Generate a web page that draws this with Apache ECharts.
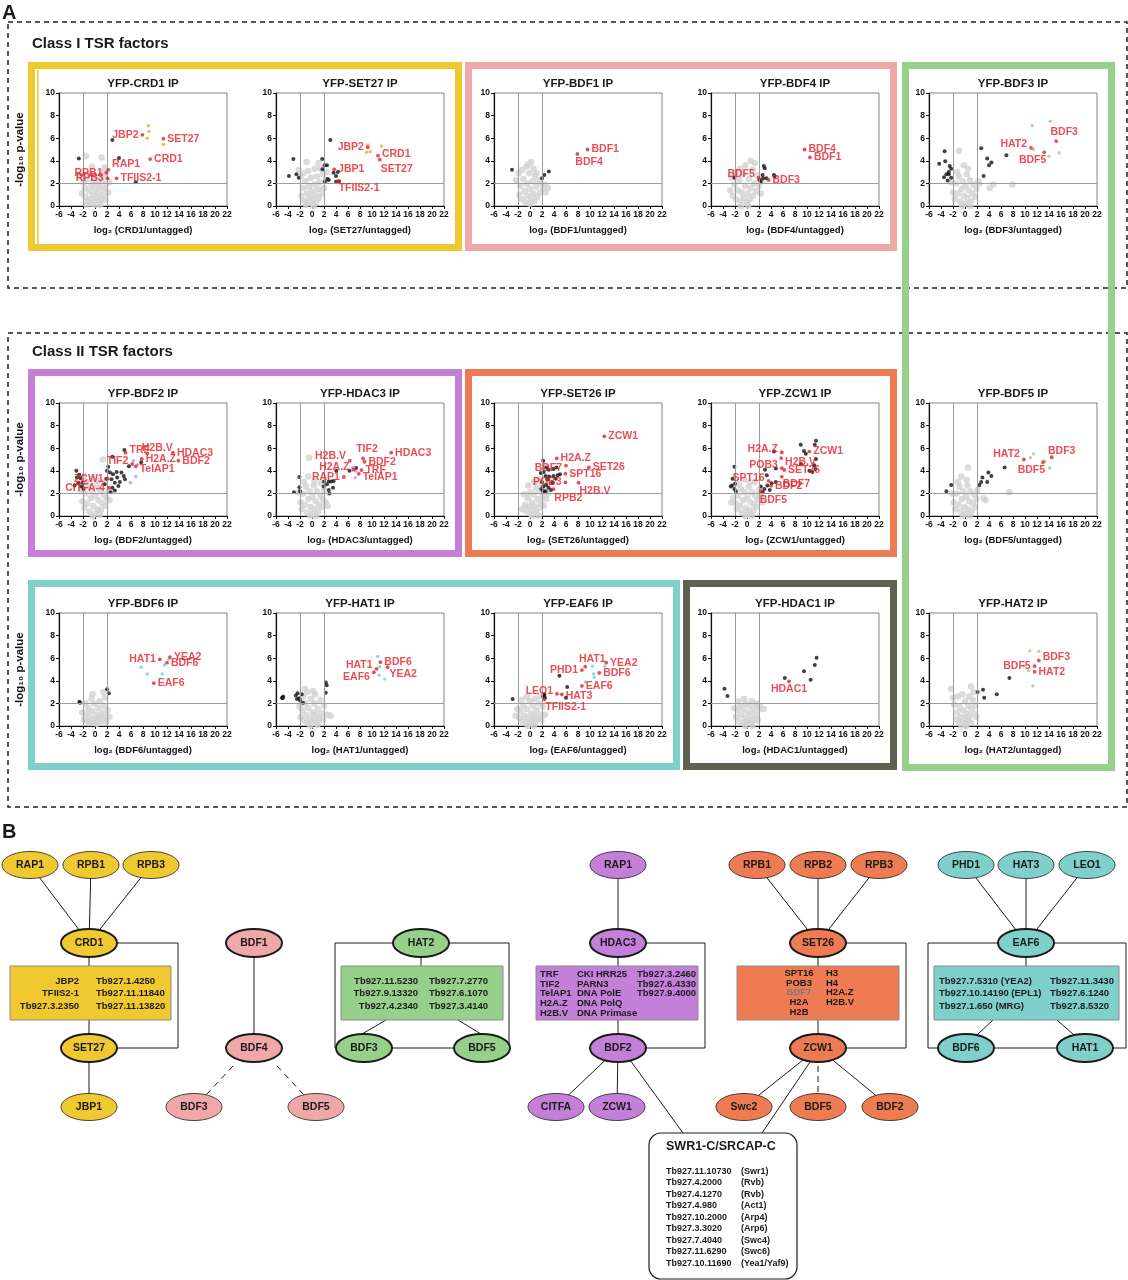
<!DOCTYPE html>
<html><head><meta charset="utf-8">
<script src="https://cdn.jsdelivr.net/npm/echarts@6/dist/echarts.min.js"></script>
<style>html,body{margin:0;padding:0;background:#fff}#c{width:1128px;height:1280px}</style>
</head><body><div id="c"></div><script>
// ---------------- DATA ----------------
const axisX = {min:-6, max:22, step:2};
const axisY = {min:0, max:10, step:2};
const cutoffs = {fcLow:-2, fcHigh:2, p:2};

// CRD1
const gCRD1=[[-1.6,0.8],[-1.2,0.4],[-1.0,1.3],[-0.8,0.6],[-0.6,1.8],[-0.5,0.2],[-0.3,1.0],[-0.1,0.5],[0.0,1.5],[0.1,0.1],[0.3,0.8],[0.3,2.0],[0.6,0.3],[0.6,1.2],[0.9,1.7],[1.0,0.6],[1.1,2.3],[1.4,1.0],[1.6,1.5],[1.7,0.5],[1.9,2.0],[-1.7,1.6],[-1.9,2.1],[-1.3,2.4],[-0.9,2.8],[0.4,2.6],[1.3,3.0],[-1.4,0.1],[0.9,0.1],[-0.2,2.2],[1.6,2.6],[2.2,1.2],[-2.2,1.1],[-1.5,4.4],[1.1,4.3],[-0.5,3.5],[1.6,3.4],[2.4,2.1],[-2.4,2.6]];
const bCRD1=[[2.9,5.85],[-2.7,4.2],[4.0,4.25],[6.8,2.1]];
const tCRD1=[[8.9,7.1],[9.0,6.6],[8.7,6.0],[11.4,5.45]];
const rCRD1=[['JBP2',7.9,6.3],['SET27',11.4,5.95],['CRD1',9.2,4.15],['RAP1',2.2,3.2],['RPB1',1.9,2.95],['RPB3',2.1,2.45],['TFIIS2-1',3.6,2.45]];
// SET27
const gSET27=[[-1.8,0.9],[-1.5,1.6],[-1.3,0.5],[-1.1,2.2],[-0.9,1.1],[-0.7,0.3],[-0.5,1.7],[-0.4,0.8],[-0.2,2.5],[0.0,0.2],[0.0,1.3],[0.2,0.6],[0.4,1.9],[0.5,1.0],[0.7,0.3],[0.8,2.6],[1.0,1.5],[1.2,0.7],[1.3,2.1],[1.6,1.1],[1.8,2.8],[2.0,1.6],[2.3,2.3],[-1.9,2.6],[-1.4,2.9],[-0.6,3.1],[0.5,3.3],[1.5,3.3],[-0.9,3.9],[-2.2,3.2],[0.3,0.0],[-1.0,0.1],[2.4,3.0],[1.1,3.8]];
const bSET27=[[3.05,5.85],[-3.1,4.15],[-3.85,2.65],[-2.6,2.8],[-2.2,2.5],[1.7,4.15],[1.75,3.25],[2.1,3.6],[2.5,3.6],[2.6,2.4],[2.15,2.15],[3.6,2.95],[4.0,2.65],[4.3,3.0],[4.0,2.15],[2.8,2.3],[4.5,2.2]];
const tSET27=[[9.3,5.4],[9.1,4.75],[9.7,4.8],[11.6,5.3]];
const rSET27=[['JBP2',9.3,5.2],['CRD1',11.0,4.45],['SET27',11.3,4.1],['JBP1',3.7,3.25],['TFIIS2-1',4.3,2.2]];
// BDF1
const gBDF1=[[-1.8,1.0],[-1.6,1.8],[-1.3,0.6],[-1.1,2.4],[-0.9,1.3],[-0.7,0.3],[-0.5,2.0],[-0.4,0.9],[-0.2,2.9],[0.0,0.2],[0.0,1.5],[0.2,0.6],[0.4,2.2],[0.5,1.1],[0.7,0.4],[0.8,2.7],[1.0,1.7],[1.2,0.8],[1.4,2.3],[1.7,1.2],[1.9,2.0],[2.2,1.5],[2.5,1.9],[-1.9,2.9],[-1.3,3.2],[-0.6,3.5],[0.2,3.9],[0.6,3.3],[-0.3,3.7],[-2.3,2.3],[1.1,2.9],[2.6,1.2],[3.0,1.6]];
const bBDF1=[[-3.0,3.2],[2.4,2.75],[3.15,3.05],[2.0,2.45]];
const tBDF1=[];
const rBDF1=[['BDF1',9.6,5.0],['BDF4',7.9,4.6]];
// BDF4
const gBDF4=[[-2.8,1.4],[-2.4,0.9],[-2.1,1.9],[-1.8,0.6],[-1.6,1.4],[-1.3,2.3],[-1.1,0.4],[-0.9,1.2],[-0.7,2.8],[-0.5,0.7],[-0.3,1.8],[0.0,0.3],[0.1,1.1],[0.3,2.4],[0.5,0.6],[0.6,1.6],[0.9,3.2],[1.0,0.9],[1.2,2.0],[1.5,1.3],[1.7,2.7],[2.0,1.8],[2.3,1.1],[-2.0,2.9],[-1.2,3.3],[-0.3,3.6],[0.6,4.0],[1.3,3.8],[-2.6,2.5],[0.2,0.0],[-1.0,0.0],[2.6,2.3]];
const bBDF4=[[-2.1,2.5],[2.8,3.55],[2.95,3.35],[2.6,2.75],[2.05,2.3],[2.7,2.45],[3.25,2.45],[4.5,2.75],[4.6,2.6],[2.3,2.2]];
const tBDF4=[];
const rBDF4=[['BDF4',9.6,5.0],['BDF1',10.5,4.3],['BDF5',1.95,2.5],['BDF3',3.6,2.3]];
// BDF3
const gBDF3=[[-2.0,1.2],[-1.7,0.6],[-1.5,2.0],[-1.2,1.1],[-1.0,2.6],[-0.8,0.4],[-0.6,1.5],[-0.4,2.2],[-0.2,0.9],[0.0,0.2],[0.1,1.8],[0.3,2.8],[0.4,0.7],[0.6,1.4],[0.8,2.3],[1.0,0.4],[1.2,1.1],[1.4,1.9],[1.7,0.8],[1.9,1.5],[2.2,2.2],[-2.3,2.1],[-1.3,3.0],[0.5,3.3],[-0.2,3.6],[-1.0,4.9],[2.4,2.0],[4.1,1.6],[4.7,1.9],[7.9,1.9],[-0.5,0.0],[0.9,0.0]];
const bBDF3=[[-4.3,3.75],[-3.4,4.85],[-3.3,3.95],[-2.55,3.55],[-2.3,3.3],[-3.5,2.55],[-3.1,2.8],[-2.7,2.8],[-2.9,2.25],[-2.3,2.5],[-2.7,3.0],[2.7,5.1],[3.7,4.2],[4.0,3.6],[4.4,3.85],[3.1,2.65],[6.9,4.5]];
const tBDF3=[[11.2,7.1],[14.2,7.5],[11.4,5.0],[14.0,4.4],[15.7,4.7]];
const rBDF3=[['BDF3',15.2,5.75],['HAT2',11.0,5.15],['BDF5',13.2,4.75]];
// BDF2
const gBDF2=[[-2.1,1.3],[-1.8,0.7],[-1.6,2.0],[-1.3,1.1],[-1.1,2.6],[-0.9,0.4],[-0.7,1.6],[-0.5,2.2],[-0.3,0.9],[0.0,0.2],[0.1,1.8],[0.3,2.7],[0.4,0.6],[0.6,1.4],[0.8,2.3],[1.0,0.5],[1.2,1.1],[1.4,1.9],[1.7,0.9],[1.9,1.6],[2.2,2.3],[-2.4,2.2],[-1.5,3.0],[0.5,3.1],[-0.5,3.3],[1.3,5.0],[1.6,3.0],[-0.4,0.0],[0.8,0.1],[2.4,1.4],[-1.9,3.4]];
const bBDF2=[[4.9,5.85],[2.9,5.25],[5.65,4.4],[7.7,4.75],[-3.1,4.0],[-2.65,3.65],[-2.4,3.35],[-2.1,2.95],[-2.8,2.9],[-3.4,2.7],[-3.0,3.4],[-2.3,2.6],[2.2,4.35],[2.0,4.0],[2.5,3.85],[3.0,3.7],[3.7,3.4],[4.4,3.85],[4.8,3.55],[5.0,3.25],[2.75,3.25],[3.3,2.95],[3.9,2.65],[2.9,2.5],[3.3,2.25],[4.15,3.0],[1.6,2.8],[1.9,3.3],[2.6,2.1],[3.6,3.9],[-1.9,2.4]];
const tBDF2=[[6.8,3.5],[5.9,2.95],[7.1,4.55],[6.4,4.9]];
const rBDF2=[['TRF',5.1,5.6],['H2B.V',8.7,5.55],['H2A.Z',7.8,5.05],['TIF2',6.2,4.6],['TelAP1',6.8,4.4],['HDAC3',13.0,5.6],['BDF2',13.9,4.9],['ZCW1',2.1,3.3],['CITFA-4',2.3,2.5]];
// HDAC3
const gHDAC3=[[-1.9,1.2],[-1.7,0.6],[-1.5,2.0],[-1.2,1.0],[-1.0,2.6],[-0.8,0.3],[-0.6,1.5],[-0.4,2.2],[-0.2,0.8],[0.0,0.2],[0.1,1.7],[0.3,2.7],[0.4,0.6],[0.6,1.3],[0.8,2.2],[1.0,0.4],[1.2,1.0],[1.4,1.8],[1.6,0.8],[1.8,1.5],[2.0,2.3],[-2.2,2.1],[-1.3,3.0],[0.4,3.1],[-0.5,5.15],[-0.6,3.5],[1.5,2.9],[-0.3,0.0],[0.7,0.0],[2.3,1.2],[2.6,0.9]];
const bHDAC3=[[-2.1,3.45],[-2.1,2.55],[-2.0,2.2],[-3.0,2.1],[2.0,3.05],[1.95,2.6],[2.8,3.05],[3.2,3.05],[2.8,2.3],[3.5,2.5],[2.9,2.0],[4.05,4.0],[6.25,4.0],[7.35,4.25],[3.6,3.1],[2.5,2.8]];
const tHDAC3=[[7.3,3.95],[7.2,3.4],[6.8,4.3]];
const rHDAC3=[['HDAC3',13.2,5.6],['TIF2',8.5,5.1],['BDF2',8.75,4.8],['H2B.V',6.3,4.9],['H2A.Z',6.9,4.1],['TRF',8.25,4.06],['RAP1',5.3,3.45],['TelAP1',7.8,3.73]];
// SET26
const gSET26=[[-0.8,1.0],[-0.6,0.4],[-0.4,1.6],[-0.2,0.8],[0.0,2.1],[0.1,0.2],[0.3,1.2],[0.5,0.5],[0.6,1.9],[0.8,0.9],[1.0,2.5],[1.1,0.3],[1.3,1.5],[1.5,0.7],[1.6,2.2],[1.8,1.1],[2.0,2.8],[2.1,1.7],[2.3,0.9],[2.5,2.3],[2.7,1.5],[-1.0,1.9],[-0.3,2.7],[0.7,3.0],[1.4,3.2],[0.4,0.0],[1.5,0.0],[3.0,2.0],[-1.3,0.6],[2.9,2.9]];
const bSET26=[[2.2,4.9],[2.7,4.3],[3.1,4.1],[3.9,4.15],[4.4,4.3],[2.6,3.55],[3.2,3.5],[2.9,3.25],[3.9,3.55],[4.6,3.6],[5.0,3.7],[3.7,2.95],[2.7,2.75],[3.1,2.5],[2.2,2.6],[2.2,2.2],[2.6,2.2],[3.5,2.3],[1.8,3.8],[2.0,3.0],[4.3,3.3],[1.9,2.4],[2.3,3.9]];
const tSET26=[];
const rSET26=[['ZCW1',12.4,7.05],['H2A.Z',4.45,5.1],['SET26',9.8,4.3],['BDF7',6.0,4.45],['SPT16',5.9,3.75],['POB3',5.9,2.97],['H2B.V',8.1,2.95],['RPB2',3.9,2.37]];
// ZCW1
const gZCW1=[[-1.9,1.1],[-1.7,0.6],[-1.5,1.8],[-1.2,0.9],[-1.0,2.4],[-0.8,0.3],[-0.6,1.4],[-0.4,2.1],[-0.2,0.7],[0.0,0.1],[0.1,1.6],[0.3,2.6],[0.4,0.5],[0.6,1.2],[0.8,2.1],[1.0,0.4],[1.2,1.0],[1.4,1.8],[1.6,0.8],[1.8,1.4],[2.0,2.3],[2.3,1.8],[-2.3,1.6],[-1.4,2.8],[0.5,3.0],[-0.4,3.2],[1.3,3.0],[-0.3,0.0],[0.8,0.0],[2.6,1.2],[-2.6,1.2]];
const bZCW1=[[-2.1,4.35],[-2.4,3.3],[-2.0,2.85],[-2.5,2.7],[-2.1,2.4],[-1.85,2.2],[-2.7,2.6],[8.95,6.3],[11.5,6.65],[11.3,6.3],[9.5,5.75],[9.8,5.5],[11.5,5.05],[11.2,4.5],[11.4,4.15],[10.9,3.9],[9.0,4.6],[4.5,5.7],[3.0,4.1],[4.8,4.2],[2.3,2.6],[2.9,2.4],[3.4,2.7],[3.8,2.3],[4.8,3.0],[3.3,3.6],[2.6,2.1],[4.1,2.9],[10.4,4.0]];
const tZCW1=[];
const rZCW1=[['ZCW1',10.4,5.7],['H2A.Z',5.8,5.64],['H2B.V',5.7,5.13],['POB3',5.8,4.24],['SET26',6.2,4.07],['BDF7',5.8,3.47],['SPT16',3.6,3.1],['BDF2',4.0,2.67],['BDF5',2.3,2.2]];
// BDF5
const gBDF5=[[-1.9,1.2],[-1.6,0.6],[-1.4,2.0],[-1.1,1.0],[-0.9,2.6],[-0.7,0.4],[-0.5,1.5],[-0.3,2.2],[-0.1,0.8],[0.0,0.2],[0.2,1.7],[0.4,2.7],[0.5,0.6],[0.7,1.3],[0.9,2.2],[1.1,0.4],[1.3,1.1],[1.5,1.9],[1.7,0.8],[1.9,1.5],[2.1,2.3],[-2.2,2.0],[-1.2,3.0],[0.3,3.2],[0.5,4.3],[-0.6,3.5],[3.1,1.6],[3.4,1.4],[7.4,2.1],[-0.4,0.0],[0.8,0.0]];
const bBDF5=[[-3.1,2.2],[-2.3,2.75],[2.7,3.0],[2.4,2.75],[3.7,3.0],[2.9,3.4],[3.9,3.85],[4.4,3.55],[6.6,4.3]];
const tBDF5=[[11.4,5.5],[10.9,5.15],[13.3,4.85],[14.1,4.25]];
const rBDF5=[['BDF3',14.45,5.2],['HAT2',9.8,5.0],['BDF5',13.0,4.76]];
// BDF6
const gBDF6=[[-1.8,0.6],[-1.5,1.1],[-1.3,0.4],[-1.1,1.6],[-0.9,0.8],[-0.7,0.3],[-0.5,1.3],[-0.3,0.6],[-0.1,2.0],[0.0,0.3],[0.2,1.0],[0.4,0.5],[0.5,1.6],[0.7,0.8],[0.9,0.3],[1.1,1.2],[1.3,0.6],[1.5,1.8],[1.7,0.9],[1.9,0.4],[2.1,1.4],[-2.1,1.2],[-1.6,2.0],[-0.6,2.4],[0.8,2.2],[1.4,3.0],[-0.4,2.8],[2.4,0.8],[0.3,0.2],[-1.0,0.3],[1.7,2.5]];
const bBDF6=[[-2.5,2.05],[-2.6,2.15],[2.0,3.25],[2.3,2.9]];
const tBDF6=[[7.7,5.2],[8.7,4.6],[11.2,4.6],[11.6,5.4],[12.3,5.9]];
const rBDF6=[['HAT1',10.8,5.9],['YEA2',12.5,6.1],['BDF6',12.0,5.6],['EAF6',9.8,3.8]];
// HAT1
const gHAT1=[[-1.9,0.8],[-1.6,1.4],[-1.4,0.5],[-1.2,2.0],[-1.0,1.0],[-0.8,0.3],[-0.6,1.6],[-0.4,0.7],[-0.2,2.4],[0.0,0.3],[0.1,1.2],[0.3,0.6],[0.4,2.0],[0.6,1.0],[0.8,0.3],[1.0,1.5],[1.2,0.7],[1.4,2.3],[1.6,1.1],[1.8,0.5],[2.0,1.8],[-2.1,1.7],[-1.5,2.6],[-0.8,3.0],[0.5,2.8],[-1.2,3.3],[0.2,3.1],[2.6,1.0],[3.1,0.9],[-0.3,0.0],[0.9,0.1]];
const bHAT1=[[-5.0,2.5],[-4.8,2.6],[-4.9,2.45],[-2.7,2.7],[-2.5,2.4],[-2.0,2.25],[-1.7,2.8],[-1.5,2.05],[-2.4,2.9],[2.3,3.85],[2.45,3.6],[2.3,2.95],[-2.1,2.45]];
const tHAT1=[[10.95,6.15],[11.3,5.25],[11.2,4.5],[12.1,4.15]];
const rHAT1=[['BDF6',11.4,5.65],['HAT1',10.75,5.05],['EAF6',10.3,4.75],['YEA2',12.6,5.2]];
// EAF6
const gEAF6=[[-1.8,0.7],[-1.6,1.3],[-1.3,0.4],[-1.1,1.8],[-0.9,0.9],[-0.7,0.3],[-0.5,1.5],[-0.3,0.7],[-0.1,2.2],[0.0,0.2],[0.2,1.1],[0.4,0.5],[0.5,1.8],[0.7,0.9],[0.9,0.3],[1.1,1.4],[1.3,0.6],[1.5,2.0],[1.7,1.0],[1.9,0.5],[2.1,1.7],[-2.1,1.5],[-1.4,2.3],[-0.5,2.6],[0.8,2.4],[1.6,2.6],[2.5,1.0],[-0.4,0.0],[0.7,0.0],[-2.4,0.9]];
const bEAF6=[[-2.9,2.4],[4.9,4.45],[6.2,3.45],[6.0,2.5],[2.3,2.7],[2.5,2.5],[2.2,2.6],[2.4,2.8]];
const tEAF6=[[10.4,5.3],[10.6,4.6],[10.7,4.3],[9.2,3.9],[12.45,5.3]];
const rEAF6=[['YEA2',12.7,5.6],['HAT1',9.2,5.25],['PHD1',8.65,4.95],['BDF6',11.55,4.7],['EAF6',8.65,3.55],['LEO1',4.5,2.85],['HAT3',5.3,2.8],['TFIIS2-1',2.4,2.35]];
// HDAC1
const gHDAC1=[[-1.8,0.8],[-1.6,1.4],[-1.4,0.4],[-1.2,1.8],[-1.0,1.0],[-0.8,0.3],[-0.6,1.5],[-0.4,0.7],[-0.2,2.0],[0.0,0.3],[0.1,1.2],[0.3,0.5],[0.4,1.8],[0.6,0.9],[0.8,0.3],[1.0,1.4],[1.2,0.6],[1.4,1.9],[1.6,1.0],[1.8,0.5],[2.0,1.5],[-2.1,1.6],[-1.5,2.2],[-0.5,2.4],[0.8,2.2],[2.1,1.8],[2.8,1.5],[-0.3,0.0],[0.9,0.0],[1.7,2.0]];
const bHDAC1=[[-3.75,3.3],[-3.25,2.65],[6.3,4.25],[9.5,4.85],[10.6,4.1],[11.3,5.4],[11.6,6.05]];
const tHDAC1=[];
const rHDAC1=[['HDAC1',7.0,3.95]];
// HAT2
const gHAT2=[[-1.5,0.6],[-1.3,1.2],[-1.1,0.4],[-0.9,1.7],[-0.7,0.8],[-0.5,0.3],[-0.3,1.4],[-0.1,0.7],[0.0,2.2],[0.1,0.2],[0.3,1.1],[0.5,0.5],[0.6,1.8],[0.8,0.9],[1.0,0.3],[1.1,1.5],[1.3,2.3],[1.5,1.1],[1.7,1.8],[1.9,0.8],[-1.8,1.9],[-1.2,2.6],[-0.4,2.8],[0.7,2.6],[1.4,3.0],[-2.3,3.3],[1.0,3.5],[-2.0,2.5],[0.2,0.0],[-0.6,0.0]];
const bHAT2=[[2.1,3.0],[3.0,3.2],[3.2,2.5],[5.3,2.8],[7.4,4.25]];
const tHAT2=[[10.8,6.65],[12.3,6.6],[9.8,5.3],[10.6,4.9],[11.3,3.55]];
const rHAT2=[['BDF3',12.3,5.8],['BDF5',11.6,5.3],['HAT2',11.6,4.8]];

// Panel B names
const crd1Top=['RAP1','RPB1','RPB3'];
const crd1Hub=['CRD1','SET27'];
const crd1SharedA=['JBP2','TFIIS2-1','Tb927.3.2350'];
const crd1SharedB=['Tb927.1.4250','Tb927.11.11840','Tb927.11.13820'];
const set27Only=['JBP1'];
const bdfPink=['BDF1','BDF4'];
const bdf4Weak=['BDF3','BDF5'];
const hat2Hub=['HAT2','BDF3','BDF5'];
const hat2SharedA=['Tb927.11.5230','Tb927.9.13320','Tb927.4.2340'];
const hat2SharedB=['Tb927.7.2770','Tb927.6.1070','Tb927.3.4140'];
const hdac3Top=['RAP1'];
const hdac3Hub=['HDAC3','BDF2'];
const hdac3SharedA=['TRF','TIF2','TelAP1','H2A.Z','H2B.V'];
const hdac3SharedB=['CKI HRR25','PARN3','DNA PolE','DNA PolQ','DNA Primase'];
const hdac3SharedC=['Tb927.3.2460','Tb927.6.4330','Tb927.9.4000'];
const bdf2Only=['CITFA','ZCW1'];
const set26Top=['RPB1','RPB2','RPB3'];
const set26Hub=['SET26','ZCW1'];
const set26SharedA=['SPT16','POB3','BDF7','H2A','H2B'];
const set26SharedB=['H3','H4','H2A.Z','H2B.V'];
const zcw1Only=['Swc2','BDF5','BDF2'];
const eaf6Top=['PHD1','HAT3','LEO1'];
const eaf6Hub=['EAF6','BDF6','HAT1'];
const eaf6SharedA=['Tb927.7.5310 (YEA2)','Tb927.10.14190 (EPL1)','Tb927.1.650 (MRG)'];
const eaf6SharedB=['Tb927.11.3430','Tb927.6.1240','Tb927.8.5320'];
const swr1Title='SWR1-C/SRCAP-C';
const swr1Genes=['Tb927.11.10730','Tb927.4.2000','Tb927.4.1270','Tb927.4.980','Tb927.10.2000','Tb927.3.3020','Tb927.7.4040','Tb927.11.6290','Tb927.10.11690'];
const swr1Roles=['(Swr1)','(Rvb)','(Rvb)','(Act1)','(Arp4)','(Arp6)','(Swc4)','(Swc6)','(Yea1/Yaf9)'];

// ---------------- STYLE / LAYOUT ----------------
const FONT='"Liberation Sans", Arial, Helvetica, sans-serif';
const RED='#E5222A';
const C={yellow:'#F0C82F',pink:'#EFA7A8',green:'#97D08B',purple:'#C47FD8',orange:'#EE7B51',teal:'#7FCFCB',olive:'#5D6152'};
const TINT={orange:'#F2A328',purple:'#C98BDD',green:'#8FD37F',teal:'#6CCFD3'};

// label placement: [position, dx, dy]
const place={
 CRD1:{JBP2:['left'],RAP1:['right',0,-6],RPB1:['left'],RPB3:['left']},
 SET27:{JBP2:['left'],CRD1:['right',0,-2],SET27:['right',-3,9],'TFIIS2-1':['right',-3,7]},
 BDF1:{BDF4:['right',-6,8]},
 BDF4:{BDF5:['left',0,-4]},
 BDF3:{BDF3:['top',8,0],HAT2:['left',0,-4],BDF5:['left',6,8]},
 BDF2:{TRF:['right',0,-3],'H2B.V':['top',10,4],TIF2:['left',0,-3],TelAP1:['right',0,3],ZCW1:['left'],'CITFA-4':['left']},
 HDAC3:{TIF2:['top',4,0],'H2B.V':['left',0,-5],'H2A.Z':['left',0,-3],RAP1:['left'],TelAP1:['right',0,3]},
 SET26:{BDF7:['left',0,2],POB3:['left'],'H2B.V':['right',-3,8],RPB2:['right',-3,9]},
 ZCW1:{'H2A.Z':['left',0,-3],'H2B.V':['right',0,4],POB3:['left',0,-3],BDF7:['right',-3,7],SPT16:['left',0,-3],BDF5:['right',-5,9]},
 BDF5:{BDF3:['top',10,3],HAT2:['left',0,-5],BDF5:['left',6,8]},
 BDF6:{HAT1:['left']},
 HAT1:{HAT1:['left',0,-4],EAF6:['left',0,5],YEA2:['right',-2,7]},
 EAF6:{HAT1:['top',7,2],PHD1:['left'],LEO1:['left',0,-3],HAT3:['right',0,2],'TFIIS2-1':['right',-3,8]},
 HDAC1:{HDAC1:['bottom',0,-2]},
 HAT2:{BDF3:['right',0,-3],BDF5:['left']}
};

const PW=168, PH=113;
const plots=[
 {k:'CRD1',x:59,y:93,g:gCRD1,b:bCRD1,t:tCRD1,tc:TINT.orange,r:rCRD1,yl:true},
 {k:'SET27',x:276,y:93,g:gSET27,b:bSET27,t:tSET27,tc:TINT.orange,r:rSET27},
 {k:'BDF1',x:494,y:93,g:gBDF1,b:bBDF1,t:tBDF1,tc:TINT.orange,r:rBDF1},
 {k:'BDF4',x:711,y:93,g:gBDF4,b:bBDF4,t:tBDF4,tc:TINT.orange,r:rBDF4},
 {k:'BDF3',x:929,y:93,g:gBDF3,b:bBDF3,t:tBDF3,tc:TINT.green,r:rBDF3},
 {k:'BDF2',x:59,y:403,g:gBDF2,b:bBDF2,t:tBDF2,tc:TINT.purple,r:rBDF2,yl:true},
 {k:'HDAC3',x:276,y:403,g:gHDAC3,b:bHDAC3,t:tHDAC3,tc:TINT.purple,r:rHDAC3},
 {k:'SET26',x:494,y:403,g:gSET26,b:bSET26,t:tSET26,tc:TINT.orange,r:rSET26},
 {k:'ZCW1',x:711,y:403,g:gZCW1,b:bZCW1,t:tZCW1,tc:TINT.orange,r:rZCW1},
 {k:'BDF5',x:929,y:403,g:gBDF5,b:bBDF5,t:tBDF5,tc:TINT.green,r:rBDF5},
 {k:'BDF6',x:59,y:613,g:gBDF6,b:bBDF6,t:tBDF6,tc:TINT.teal,r:rBDF6,yl:true},
 {k:'HAT1',x:276,y:613,g:gHAT1,b:bHAT1,t:tHAT1,tc:TINT.teal,r:rHAT1},
 {k:'EAF6',x:494,y:613,g:gEAF6,b:bEAF6,t:tEAF6,tc:TINT.teal,r:rEAF6},
 {k:'HDAC1',x:711,y:613,g:gHDAC1,b:bHDAC1,t:tHDAC1,tc:TINT.orange,r:rHDAC1},
 {k:'HAT2',x:929,y:613,g:gHAT2,b:bHAT2,t:tHAT2,tc:TINT.green,r:rHAT2}
];

const option={animation:false,textStyle:{fontFamily:FONT},grid:[],xAxis:[],yAxis:[],series:[],graphic:{elements:[]}};
const GE=option.graphic.elements;
function T(x,y,text,size,opt){opt=opt||{};GE.push({type:'text',x:x,y:y,z:opt.z||20,silent:true,style:{text:text,font:'bold '+size+'px '+FONT,fill:opt.fill||'#1a1a1a',textAlign:opt.align||'left',align:opt.align||'left',textVerticalAlign:'middle',verticalAlign:'middle'}});}
function R(x,y,w,h,fill,stroke,lw,opt){opt=opt||{};GE.push({type:'rect',z:opt.z||5,silent:true,shape:{x:x,y:y,width:w,height:h,r:opt.r||0},style:{fill:fill,stroke:stroke,lineWidth:lw,lineDash:opt.dash||null}});}
function L(x1,y1,x2,y2,opt){opt=opt||{};GE.push({type:'line',z:opt.z||4,silent:true,shape:{x1:x1,y1:y1,x2:x2,y2:y2},style:{stroke:opt.c||'#1a1a1a',lineWidth:opt.w||1,lineDash:opt.dash||null}});}
function PL(pts){GE.push({type:'polyline',z:4,silent:true,shape:{points:pts},style:{stroke:'#1a1a1a',lineWidth:1,fill:null}});}
function E(cx,cy,label,fill,thick){GE.push({type:'ellipse',z:8,silent:true,shape:{cx:cx,cy:cy,rx:28,ry:thick?14:13.5},style:{fill:fill,stroke:'#1a1a1a',lineWidth:thick?2:0.8}});T(cx,cy+0.5,label,10.5,{align:'center',z:9});}

// ---------------- PANEL A frames ----------------
T(2,13,'A',20);
T(32,44,'Class I TSR factors',15);
T(32,352,'Class II TSR factors',15);
R(8,22,1119,266,null,'#222',1.5,{dash:[5,4],z:1});
R(8,333,1119,474,null,'#222',1.5,{dash:[5,4],z:1});
R(31.5,65.5,427,182,null,C.yellow,7,{z:2});
L(38,70,38,244,{c:C.yellow,w:1.5,z:3});L(456,70,456,244,{c:C.yellow,w:1.5,z:3});
R(468.5,65.5,425,182,null,C.pink,7,{z:2});
R(905.5,65.5,206,702,null,C.green,7,{z:2});
R(31.5,372.5,427,181,null,C.purple,7,{z:2});
R(468.5,372.5,425,181,null,C.orange,7,{z:2});
R(31.5,583.5,645,183,null,C.teal,7,{z:2});
R(686.5,583.5,207,183,null,C.olive,7,{z:2});

// ---------------- PANEL A plots ----------------
const axLine={show:true,onZero:false,lineStyle:{color:'#111',width:1.2}};
const axTick={show:true,length:3,lineStyle:{color:'#111',width:1}};
const axLab={fontSize:8.5,fontWeight:'bold',color:'#111',margin:4,fontFamily:FONT,hideOverlap:false};
plots.forEach((p,i)=>{
  option.grid.push({left:p.x,top:p.y,width:PW,height:PH,show:true,borderColor:'#666',borderWidth:0.8,backgroundColor:'rgba(0,0,0,0)',containLabel:false,outerBoundsMode:'none'});
  option.xAxis.push({gridIndex:i,type:'value',min:axisX.min,max:axisX.max,interval:axisX.step,axisLine:axLine,axisTick:axTick,axisLabel:Object.assign({showMinLabel:true,showMaxLabel:true},axLab),splitLine:{show:false},
    name:'log\u2082 ('+p.k+'/untagged)',nameLocation:'middle',nameGap:19,nameTextStyle:{fontSize:9.5,fontWeight:'bold',color:'#111',fontFamily:FONT}});
  option.yAxis.push({gridIndex:i,type:'value',min:axisY.min,max:axisY.max,interval:axisY.step,axisLine:axLine,axisTick:axTick,axisLabel:Object.assign({showMinLabel:true,showMaxLabel:true},axLab),splitLine:{show:false},
    name:p.yl?'-log\u2081\u2080 p-value':'',nameLocation:'middle',nameGap:33,nameRotate:90,nameTextStyle:{fontSize:11.5,fontWeight:'bold',color:'#111',fontFamily:FONT}});
  T(p.x+PW/2,p.y-9,'YFP-'+p.k+' IP',11.5,{align:'center'});
  option.series.push({type:'scatter',xAxisIndex:i,yAxisIndex:i,data:p.g,symbolSize:6.5,itemStyle:{color:'#d2d2d2'},silent:true,z:2,
    markLine:{silent:true,symbol:['none','none'],label:{show:false},lineStyle:{color:'#9c9c9c',width:1,type:'solid'},animation:false,
      data:[{xAxis:cutoffs.fcLow},{xAxis:cutoffs.fcHigh},{yAxis:cutoffs.p}]}});
  option.series.push({type:'scatter',xAxisIndex:i,yAxisIndex:i,data:p.b,symbolSize:4,itemStyle:{color:'#111'},silent:true,z:3});
  option.series.push({type:'scatter',xAxisIndex:i,yAxisIndex:i,data:p.t,symbolSize:3.4,itemStyle:{color:p.tc},silent:true,z:4});
  const pl=place[p.k]||{};
  const q=p.r.map(d=>pl[d[0]]||['right']);
  option.series.push({type:'scatter',xAxisIndex:i,yAxisIndex:i,symbolSize:3.8,itemStyle:{color:RED},silent:true,z:5,
    data:p.r.map((d,j)=>({name:d[0],value:[d[1],d[2]],label:{position:q[j][0]}})),
    label:{show:true,formatter:'{b}',color:RED,fontSize:10.5,fontWeight:'bold',fontFamily:FONT,distance:2},
    labelLayout:function(prm){const o=q[prm.dataIndex];return {dx:o[1]||0,dy:o[2]||0,hideOverlap:false};}});
});

// ---------------- PANEL B ----------------
T(2,832,'B',20);
const rowTop=865, rowHub=943, rowLow=1048, rowBot=1107;
const F=9.5;
// yellow CRD1 / SET27
[30,91,151].forEach((x,j)=>{L(x,rowTop,89,rowHub);E(x,rowTop,crd1Top[j],C.yellow,false);});
L(89,rowHub,89,rowBot);
PL([[89,rowHub],[178,rowHub],[178,rowLow],[89,rowLow]]);
R(10,966,161,54,C.yellow,'#8a8a8a',1,{z:6});
crd1SharedA.forEach((s,j)=>T(79,981+j*12.5,s,F,{align:'right'}));
crd1SharedB.forEach((s,j)=>T(96,981+j*12.5,s,F));
E(89,rowHub,crd1Hub[0],C.yellow,true);E(89,rowLow,crd1Hub[1],C.yellow,true);E(89,rowBot,set27Only[0],C.yellow,false);
// pink BDF1 / BDF4
L(254,rowHub,254,rowLow);
L(233,1066,206,1095,{dash:[6,5]});L(277,1066,304,1095,{dash:[6,5]});
E(254,rowHub,bdfPink[0],C.pink,true);E(254,rowLow,bdfPink[1],C.pink,true);
E(194,rowBot,bdf4Weak[0],C.pink,false);E(316,rowBot,bdf4Weak[1],C.pink,false);
// green HAT2
L(421,rowHub,421,966);L(386,1020,362,1034);L(458,1020,481,1034);L(364,rowLow,482,rowLow);
PL([[421,rowHub],[335,rowHub],[335,rowLow],[364,rowLow]]);PL([[421,rowHub],[509,rowHub],[509,rowLow],[482,rowLow]]);
R(341,966,162,54,C.green,'#8a8a8a',1,{z:6});
hat2SharedA.forEach((s,j)=>T(418,981+j*12.5,s,F,{align:'right'}));
hat2SharedB.forEach((s,j)=>T(429,981+j*12.5,s,F));
E(421,rowHub,hat2Hub[0],C.green,true);E(364,rowLow,hat2Hub[1],C.green,true);E(482,rowLow,hat2Hub[2],C.green,true);
// purple HDAC3 / BDF2
L(618,rowTop,618,rowLow);
PL([[618,rowHub],[705,rowHub],[705,rowLow],[618,rowLow]]);
L(618,rowLow,556,rowBot);L(618,rowLow,617,rowBot);L(630,1060,683,1133);
R(536,966,162,54,C.purple,'#8a8a8a',1,{z:6});
hdac3SharedA.forEach((s,j)=>T(540,974+j*9.9,s,F));
hdac3SharedB.forEach((s,j)=>T(577,974+j*9.9,s,F));
hdac3SharedC.forEach((s,j)=>T(637,974+j*9.9,s,F));
E(618,rowTop,hdac3Top[0],C.purple,false);E(618,rowHub,hdac3Hub[0],C.purple,true);E(618,rowLow,hdac3Hub[1],C.purple,true);
E(556,rowBot,bdf2Only[0],C.purple,false);E(617,rowBot,bdf2Only[1],C.purple,false);
// orange SET26 / ZCW1
[757,818,879].forEach((x,j)=>{L(x,rowTop,818,rowHub);E(x,rowTop,set26Top[j],C.orange,false);});
L(818,rowHub,818,rowLow);
PL([[818,rowHub],[906,rowHub],[906,rowLow],[818,rowLow]]);
L(818,rowLow,744,rowBot);L(818,rowLow,890,rowBot);L(818,1066,818,1093,{dash:[6,4]});L(810,1062,762,1133);
R(737,966,162,54,C.orange,'#8a8a8a',1,{z:6});
set26SharedA.forEach((s,j)=>T(799,973+j*9.9,s,F,{align:'center',fill:s==='BDF7'?'#7a7a7a':'#1a1a1a'}));
set26SharedB.forEach((s,j)=>T(826,973+j*9.9,s,F));
E(818,rowHub,set26Hub[0],C.orange,true);E(818,rowLow,set26Hub[1],C.orange,true);
E(744,rowBot,zcw1Only[0],C.orange,false);E(818,rowBot,zcw1Only[1],C.orange,false);E(890,rowBot,zcw1Only[2],C.orange,false);
// teal EAF6
[966,1026,1087].forEach((x,j)=>{L(x,rowTop,1026,rowHub);E(x,rowTop,eaf6Top[j],C.teal,false);});
L(1026,rowHub,1026,966);L(993,1020,977,1035);L(1057,1020,1074,1035);L(966,rowLow,1085,rowLow);
PL([[1026,rowHub],[928,rowHub],[928,rowLow],[966,rowLow]]);PL([[1026,rowHub],[1126,rowHub],[1126,rowLow],[1085,rowLow]]);
R(934,966,185,54,C.teal,'#8a8a8a',1,{z:6});
eaf6SharedA.forEach((s,j)=>T(939,981+j*12.5,s,F));
eaf6SharedB.forEach((s,j)=>T(1050,981+j*12.5,s,F));
E(1026,rowHub,eaf6Hub[0],C.teal,true);E(966,rowLow,eaf6Hub[1],C.teal,true);E(1085,rowLow,eaf6Hub[2],C.teal,true);
// SWR1 box
R(649,1133,148,146,'#fff','#1a1a1a',1.2,{r:12,z:6});
T(666,1147,swr1Title,12.5);
swr1Genes.forEach((s,j)=>{T(666,1171.5+j*11.5,s,9);T(741,1171.5+j*11.5,swr1Roles[j],9);});

const chart=echarts.init(document.getElementById('c'),null,{renderer:'canvas',width:1128,height:1280});
chart.setOption(option);
</script></body></html>
